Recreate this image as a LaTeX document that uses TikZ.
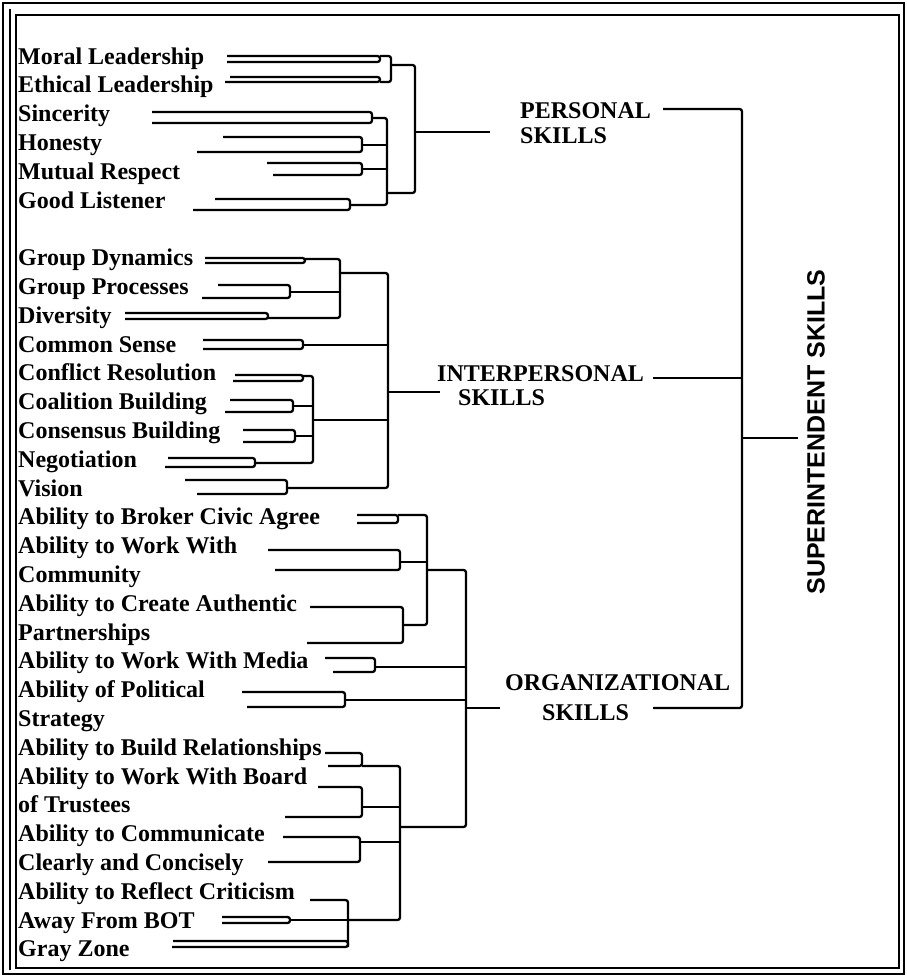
\documentclass[tikz,border=0pt]{standalone}
\usepackage{fontspec}
\setmainfont{Liberation Serif}
\setsansfont{Liberation Sans}
\tikzset{
  wire/.style={line width=2.3pt, rounded corners=2.5pt},
  frame/.style={line width=1.8pt},
  skill/.style={anchor=base west, inner sep=0pt, font=\fontsize{24}{24}\selectfont\bfseries},
  area/.style={anchor=base west, inner sep=0pt, font=\fontsize{24}{24}\selectfont\bfseries},
}
% U-shaped leaf: name, x top, y top, x bottom, y bottom, x right, y of join
\newcommand{\leafu}[7]{%
  \draw[wire] (#2,#3) -- (#6,#3) -- (#6,#5) -- (#4,#5);
  \coordinate (#1) at (#6,#7);
}

\begin{document}
\begin{tikzpicture}[x=1pt,y=-1pt]
\useasboundingbox (0,0) rectangle (906,977);
% frame
\draw[frame] (3,3) rectangle (904,974);
\draw[frame] (10,9) -- (10,970);
\draw[frame] (16,15) rectangle (899,968);

% skill names, one per row
\foreach \nm/\row/\txt in {moral/0/Moral Leadership, ethic/1/Ethical Leadership,
    sinc/2/Sincerity, hon/3/Honesty, mut/4/Mutual Respect, good/5/Good Listener,
    gdyn/7/Group Dynamics, gproc/8/Group Processes, div/9/Diversity,
    csense/10/Common Sense, confl/11/Conflict Resolution, coal/12/Coalition Building,
    cons/13/Consensus Building, nego/14/Negotiation, vis/15/Vision,
    brok/16/Ability to Broker Civic Agree, wwith/17/Ability to Work With,
    comm/18/Community, auth/19/Ability to Create Authentic, part/20/Partnerships,
    media/21/Ability to Work With Media, polit/22/Ability of Political,
    strat/23/Strategy, build/24/Ability to Build Relationships,
    board/25/Ability to Work With Board, trust/26/of Trustees,
    commun/27/Ability to Communicate, clear/28/Clearly and Concisely,
    refl/29/Ability to Reflect Criticism, away/30/Away From BOT, gray/31/Gray Zone}
  \node[skill] (\nm) at (18,{64+28.8*\row}) {\txt};

% personal skills
\leafu{lmor}{227}{56}{227}{62}{380}{56}
\leafu{leth}{230}{77}{225}{82}{380}{82}
\leafu{lsin}{152}{112}{152}{123}{372}{118}
\leafu{lhon}{223}{137}{197}{152}{362}{145}
\leafu{lmut}{267}{163}{273}{175}{362}{169}
\leafu{lgood}{215}{199}{193}{210}{350}{205}
\coordinate (bme) at (391,65);
\coordinate (bshmg) at (387,193);
\coordinate (bpers) at (415,132);
\coordinate (opers) at (490,132);
\draw[wire] (lmor) -| (bme) |- (leth);
\draw[wire] (lsin) -| (bshmg) |- (lgood);
\draw[wire] (lhon) -- (lhon -| bshmg);
\draw[wire] (lmut) -- (lmut -| bshmg);
\draw[wire] (bme) -| (bpers) |- (bshmg);
\draw[wire] (bpers) -- (opers);

% interpersonal skills
\leafu{lgd}{205}{258}{205}{263}{305}{259}
\leafu{lgp}{218}{285}{202}{298}{290}{292}
\leafu{ldiv}{125}{313}{125}{319}{268}{318}
\leafu{lcs}{203}{340}{203}{349}{303}{345}
\leafu{lcr}{235}{375}{233}{381}{303}{376}
\leafu{lcb}{230}{400}{225}{412}{293}{406}
\leafu{lcons}{243}{430}{243}{442}{295}{436}
\leafu{lneg}{168}{458}{165}{467}{255}{463}
\leafu{lvis}{185}{480}{197}{494}{287}{488}
\coordinate (bgrp) at (340,273);
\coordinate (bconf) at (313,420);
\coordinate (binter) at (388,392);
\coordinate (ointer) at (440,392);
\draw[wire] (lgd) -| (bgrp) |- (ldiv);
\draw[wire] (lgp) -- (lgp -| bgrp);
\draw[wire] (lcr) -| (bconf) |- (lneg);
\draw[wire] (lcb) -- (lcb -| bconf);
\draw[wire] (lcons) -- (lcons -| bconf);
\draw[wire] (bgrp) -| (binter) |- (lvis);
\draw[wire] (lcs) -- (lcs -| binter);
\draw[wire] (bconf) -- (bconf -| binter);
\draw[wire] (binter) -- (ointer);

% organizational skills
\leafu{lbrok}{357}{515}{357}{523}{398}{515}
\leafu{lcomm}{268}{550}{275}{570}{400}{562}
\leafu{lpart}{310}{607}{307}{643}{403}{625}
\leafu{lmedia}{325}{658}{333}{672}{375}{667}
\leafu{lpol}{242}{692}{247}{707}{345}{700}
\leafu{lbuild}{325}{753}{328}{766}{362}{766}
\leafu{lboard}{318}{787}{285}{817}{362}{807}
\leafu{lclear}{283}{837}{268}{862}{360}{842}
\leafu{laway}{222}{917}{222}{923}{290}{920}
\leafu{lgray}{173}{941}{172}{947}{348}{947}
\coordinate (srefl) at (310,900);
\coordinate (lrefl) at (348,900);
\coordinate (bgray) at (348,920);
\coordinate (bciv) at (427,570);
\coordinate (bbot) at (400,827);
\coordinate (borg) at (466,708);
\coordinate (oorg) at (500,708);
\draw[wire] (srefl) -- (lrefl) -- (lgray);
\draw[wire] (laway) -- (bgray);
\draw[wire] (lbrok) -| (bciv) |- (lpart);
\draw[wire] (lcomm) -- (lcomm -| bciv);
\draw[wire] (lbuild) -| (bbot) |- (bgray);
\draw[wire] (lboard) -- (lboard -| bbot);
\draw[wire] (lclear) -- (lclear -| bbot);
\draw[wire] (bciv) -| (borg) |- (bbot);
\draw[wire] (lmedia) -- (lmedia -| borg);
\draw[wire] (lpol) -- (lpol -| borg);
\draw[wire] (borg) -- (oorg);

% area labels
\node[area] (pers1) at (520,118) {PERSONAL};
\node[area] (pers2) at (520,143) {SKILLS};
\node[area] (inter1) at (437,381) {INTERPERSONAL};
\node[area] (inter2) at (458,405) {SKILLS};
\node[area] (org1) at (505,690) {ORGANIZATIONAL};
\node[area] (org2) at (542,720) {SKILLS};

% superintendent skills
\coordinate (spers) at (663,109);
\coordinate (sinter) at (653,378);
\coordinate (sorg) at (653,708);
\coordinate (bsup) at (742,438);
\coordinate (osup) at (798,438);
\draw[wire] (spers) -| (bsup) |- (sorg);
\draw[wire] (sinter) -- (sinter -| bsup);
\draw[wire] (bsup) -- (osup);
\node[rotate=90, inner sep=0pt, font=\sffamily\bfseries\fontsize{25}{25}\selectfont] (super) at (816,432) {SUPERINTENDENT SKILLS};
\end{tikzpicture}
\end{document}
